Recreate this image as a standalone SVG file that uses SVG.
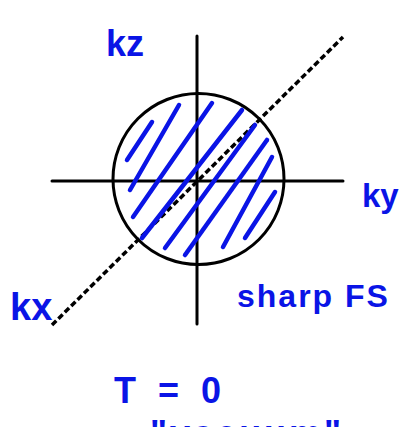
<svg xmlns="http://www.w3.org/2000/svg" width="401" height="427" viewBox="0 0 401 427">
<style>
.ax{stroke:#000;stroke-width:3;fill:none;stroke-linecap:round}
.dash{stroke:#000;stroke-width:3.5;stroke-dasharray:6 3;fill:none}
.hatch{stroke:#0a14e6;stroke-width:4.5;stroke-linecap:round;fill:none}
.lbl{font-family:"Liberation Sans",Arial,sans-serif;fill:#0a14e6;font-weight:bold}
</style>
<rect width="401" height="427" fill="#fff"/>
<g id="connectors">
<line class="ax" x1="197" y1="36" x2="197" y2="324"/>
<line class="ax" x1="52" y1="181" x2="343" y2="181"/>
<line class="dash" x1="52" y1="325" x2="343" y2="37"/>
</g>
<g id="fermi-sphere">
<circle class="ax" cx="198.5" cy="179" r="85.5"/>
<g id="hatching">
<path class="hatch" d="M127 160 L152 122"/>
<path class="hatch" d="M130 190 L179 105"/>
<path class="hatch" d="M133 217 L212 103"/>
<path class="hatch" d="M142 238 L242 110"/>
<path class="hatch" d="M165 248 L255 125"/>
<path class="hatch" d="M185 255 L267 140"/>
<path class="hatch" d="M223 247 L272 157"/>
<path class="hatch" d="M245 238 L275 192"/>
</g>
</g>
<g id="label-kz"><text class="lbl" x="106" y="56" font-size="36">kz</text></g>
<g id="label-ky"><text class="lbl" x="362" y="207" font-size="33">ky</text></g>
<g id="label-kx"><text class="lbl" x="10" y="320" font-size="38">kx</text></g>
<g id="label-fs"><text class="lbl" x="237" y="307" font-size="32" letter-spacing="2">sharp FS</text></g>
<g id="label-t"><text class="lbl" x="114" y="403" font-size="36" letter-spacing="6">T = 0</text></g>
<g id="label-vac"><text class="lbl" x="150" y="446" font-size="36" letter-spacing="3">"vacuum"</text></g>
</svg>
